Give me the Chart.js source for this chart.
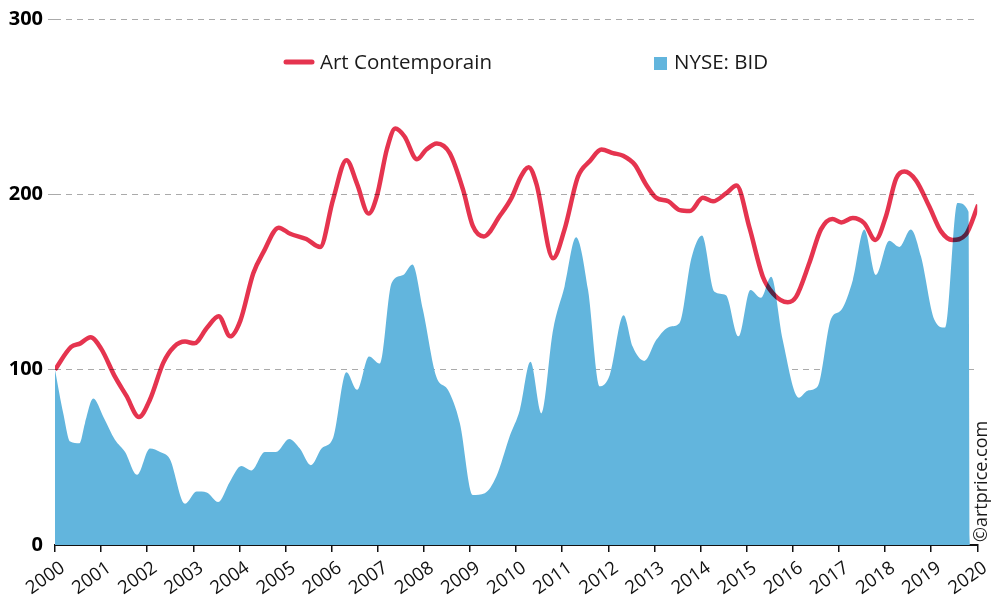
<!DOCTYPE html>
<html>
<head>
<meta charset="utf-8">
<script src="https://cdn.jsdelivr.net/npm/chart.js@4.4.1/dist/chart.umd.min.js"></script>
<style>
    html, body { margin: 0; padding: 0; background: #fff; }
    canvas { display: block; }
</style>
</head>
<body>
<canvas id="artChart" width="995" height="596"></canvas>
<script>
// values, x in decimal years
const artYears = [2000.0, 2000.35, 2000.55, 2000.77, 2001.0, 2001.3, 2001.55, 2001.82, 2002.06, 2002.35, 2002.58, 2002.82,
    2003.02, 2003.3, 2003.55, 2003.8, 2004.02, 2004.3, 2004.52, 2004.85, 2005.1, 2005.45, 2005.75, 2006.03, 2006.32,
    2006.55, 2006.8, 2006.98, 2007.2, 2007.38, 2007.58, 2007.85, 2008.05, 2008.28, 2008.56, 2008.85, 2009.06, 2009.3,
    2009.64, 2009.9, 2010.1, 2010.27, 2010.44, 2010.8, 2011.05, 2011.34, 2011.6, 2011.85, 2012.1, 2012.32, 2012.57,
    2012.82, 2013.04, 2013.3, 2013.55, 2013.77, 2014.05, 2014.27, 2014.55, 2014.78, 2015.06, 2015.35, 2015.57, 2015.89,
    2016.07, 2016.36, 2016.61, 2016.86, 2017.05, 2017.3, 2017.55, 2017.79, 2018.02, 2018.24, 2018.42, 2018.67, 2018.96,
    2019.21, 2019.46, 2019.75, 2020.02];
const artValues = [100, 113, 115, 118.5, 112, 96, 85, 73, 83, 104, 113, 116,
    115, 124, 130.5, 119, 128, 155, 167, 181, 177.5, 174.5, 170, 197, 219.5,
    206, 189, 199, 226, 237.5, 233, 220, 225.5, 229, 223.5, 202.5, 182, 176,
    187.5, 198, 210, 215.5, 206, 163.5, 180, 210, 219, 225.5, 223.5, 222, 217,
    205.5, 198, 196, 191, 190.5, 198, 196, 200.5, 205, 181, 153, 143.5, 138.5,
    141.5, 161, 180, 186, 184, 186.5, 183.5, 174, 187.5, 209, 213, 208, 193,
    179, 174, 177, 194];

const bidYears = [2000.0, 2000.18, 2000.33, 2000.53, 2000.65, 2000.83, 2001.05, 2001.3, 2001.52, 2001.78, 2002.06, 2002.28,
    2002.49, 2002.82, 2003.07, 2003.29, 2003.54, 2003.79, 2004.04, 2004.26, 2004.55, 2004.79, 2005.08, 2005.31, 2005.55,
    2005.78, 2006.03, 2006.32, 2006.55, 2006.81, 2007.04, 2007.3, 2007.55, 2007.75, 2007.98, 2008.27, 2008.52, 2008.78,
    2009.06, 2009.32, 2009.57, 2009.86, 2010.08, 2010.31, 2010.55, 2010.8, 2011.05, 2011.3, 2011.56, 2011.81, 2012.03,
    2012.33, 2012.53, 2012.78, 2013.04, 2013.33, 2013.54, 2013.8, 2014.03, 2014.3, 2014.55, 2014.82, 2015.08, 2015.31,
    2015.53, 2015.78, 2016.13, 2016.32, 2016.54, 2016.83, 2017.05, 2017.3, 2017.55, 2017.8, 2018.09, 2018.31, 2018.56,
    2018.78, 2019.07, 2019.3, 2019.57, 2019.81, 2019.84];
const bidValues = [100, 75, 59, 58, 69.5, 83.5, 73, 60, 53, 40, 55, 53,
    49, 23.5, 30.5, 30, 24.5, 36, 45, 42.5, 53, 53, 60.5, 55, 45.5,
    55, 61, 98.5, 88.5, 107.5, 103.5, 149.5, 154, 160, 134, 96, 88.5, 69.5,
    28.5, 29.5, 39, 62, 77, 104.5, 75, 122.5, 147.5, 175.5, 145.5, 90.5, 97,
    131, 113, 105, 117, 124.5, 126.5, 163.5, 176.5, 144.5, 142.5, 119, 145.5, 141,
    153, 117, 84, 88, 90.5, 129, 134, 151, 180, 154, 173.5, 170, 180,
    164.5, 128.5, 124, 195, 190, 0];

const seriesNames = ['Art Contemporain', 'NYSE: BID'];
const yTicks = [0, 100, 200, 300];
const xFirst = 2000;
const xLast = 2020;
const credit = '©artprice.com';

const RED = '#e5344f';
const BLUE = '#62b5dd';
const FONT = '"Open Sans", "Noto Sans", sans-serif';

const toPoints = (xs, ys) => xs.map((x, i) => ({ x, y: ys[i] }));

// red line is multiplied over the blue area, so it darkens where they cross
const blendLine = {
    id: 'blendLine',
    beforeDatasetDraw(chart, args) {
        if (args.index !== 0) return;
        chart.ctx.save();
        chart.ctx.globalCompositeOperation = 'multiply';
    },
    afterDatasetDraw(chart, args) {
        if (args.index === 0) chart.ctx.restore();
    },
};

// legend sits inside the plot, plus the vertical credit on the right
const insideLegend = {
    id: 'insideLegend',
    afterDraw(chart) {
        const ctx = chart.ctx;
        const [art, bid] = chart.data.datasets;
        ctx.save();
        ctx.font = `20.5px ${FONT}`;
        ctx.textBaseline = 'middle';
        ctx.textAlign = 'left';

        ctx.strokeStyle = art.borderColor;
        ctx.lineWidth = 5;
        ctx.lineCap = 'round';
        ctx.beginPath();
        ctx.moveTo(286, 62);
        ctx.lineTo(312, 62);
        ctx.stroke();
        ctx.fillStyle = '#1a1a1a';
        ctx.fillText(art.label, 320, 63);

        ctx.fillStyle = bid.backgroundColor;
        ctx.fillRect(654, 57, 13, 13);
        ctx.fillStyle = '#1a1a1a';
        ctx.fillText(bid.label, 674, 63);

        ctx.translate(987, 542);
        ctx.rotate(-Math.PI / 2);
        ctx.font = `18px ${FONT}`;
        ctx.textBaseline = 'alphabetic';
        ctx.fillText(credit, 0, 0);
        ctx.restore();
    },
};

new Chart(document.getElementById('artChart'), {
    type: 'line',
    data: {
        datasets: [{
            label: seriesNames[0],
            data: toPoints(artYears, artValues),
            borderColor: RED,
            borderWidth: 4.5,
            fill: false,
            pointRadius: 0,
            cubicInterpolationMode: 'monotone',
        }, {
            label: seriesNames[1],
            data: toPoints(bidYears, bidValues),
            borderWidth: 0,
            borderColor: BLUE,
            backgroundColor: BLUE,
            fill: 'origin',
            pointRadius: 0,
            cubicInterpolationMode: 'monotone',
        }],
    },
    options: {
        responsive: false,
        animation: false,
        devicePixelRatio: 1,
        layout: { padding: { top: 19, right: 17, left: 0, bottom: 0 } },
        plugins: {
            legend: { display: false },
            tooltip: { enabled: false },
        },
        scales: {
            x: {
                type: 'linear',
                min: xFirst,
                max: xLast,
                afterFit: (scale) => { scale.height = 51; },
                afterBuildTicks: (scale) => {
                    const ticks = [];
                    for (let y = xFirst; y <= xLast; y++) ticks.push({ value: y });
                    scale.ticks = ticks;
                },
                grid: { drawOnChartArea: false, drawTicks: true, tickLength: 7, color: '#111', lineWidth: 1.5 },
                border: { display: true, color: '#111', width: 2 },
                ticks: {
                    color: '#111',
                    font: { family: FONT, size: 18.5 },
                    minRotation: 35,
                    maxRotation: 35,
                    padding: 5,
                    labelOffset: 8,
                    callback: (v) => String(v),
                },
            },
            y: {
                min: yTicks[0],
                max: yTicks[yTicks.length - 1],
                afterFit: (scale) => { scale.width = 55; },
                afterBuildTicks: (scale) => { scale.ticks = yTicks.map((value) => ({ value })); },
                grid: {
                    color: (c) => (c.tick && c.tick.value === 0 ? 'rgba(0,0,0,0)' : '#aaaaaa'),
                    lineWidth: 1,
                    tickLength: 7,
                },
                border: { display: false, dash: [6, 5] },
                ticks: {
                    color: '#000',
                    font: { family: FONT, size: 20, weight: 'bold' },
                    padding: 5,
                },
            },
        },
    },
    plugins: [blendLine, insideLegend],
});
</script>
</body>
</html>
